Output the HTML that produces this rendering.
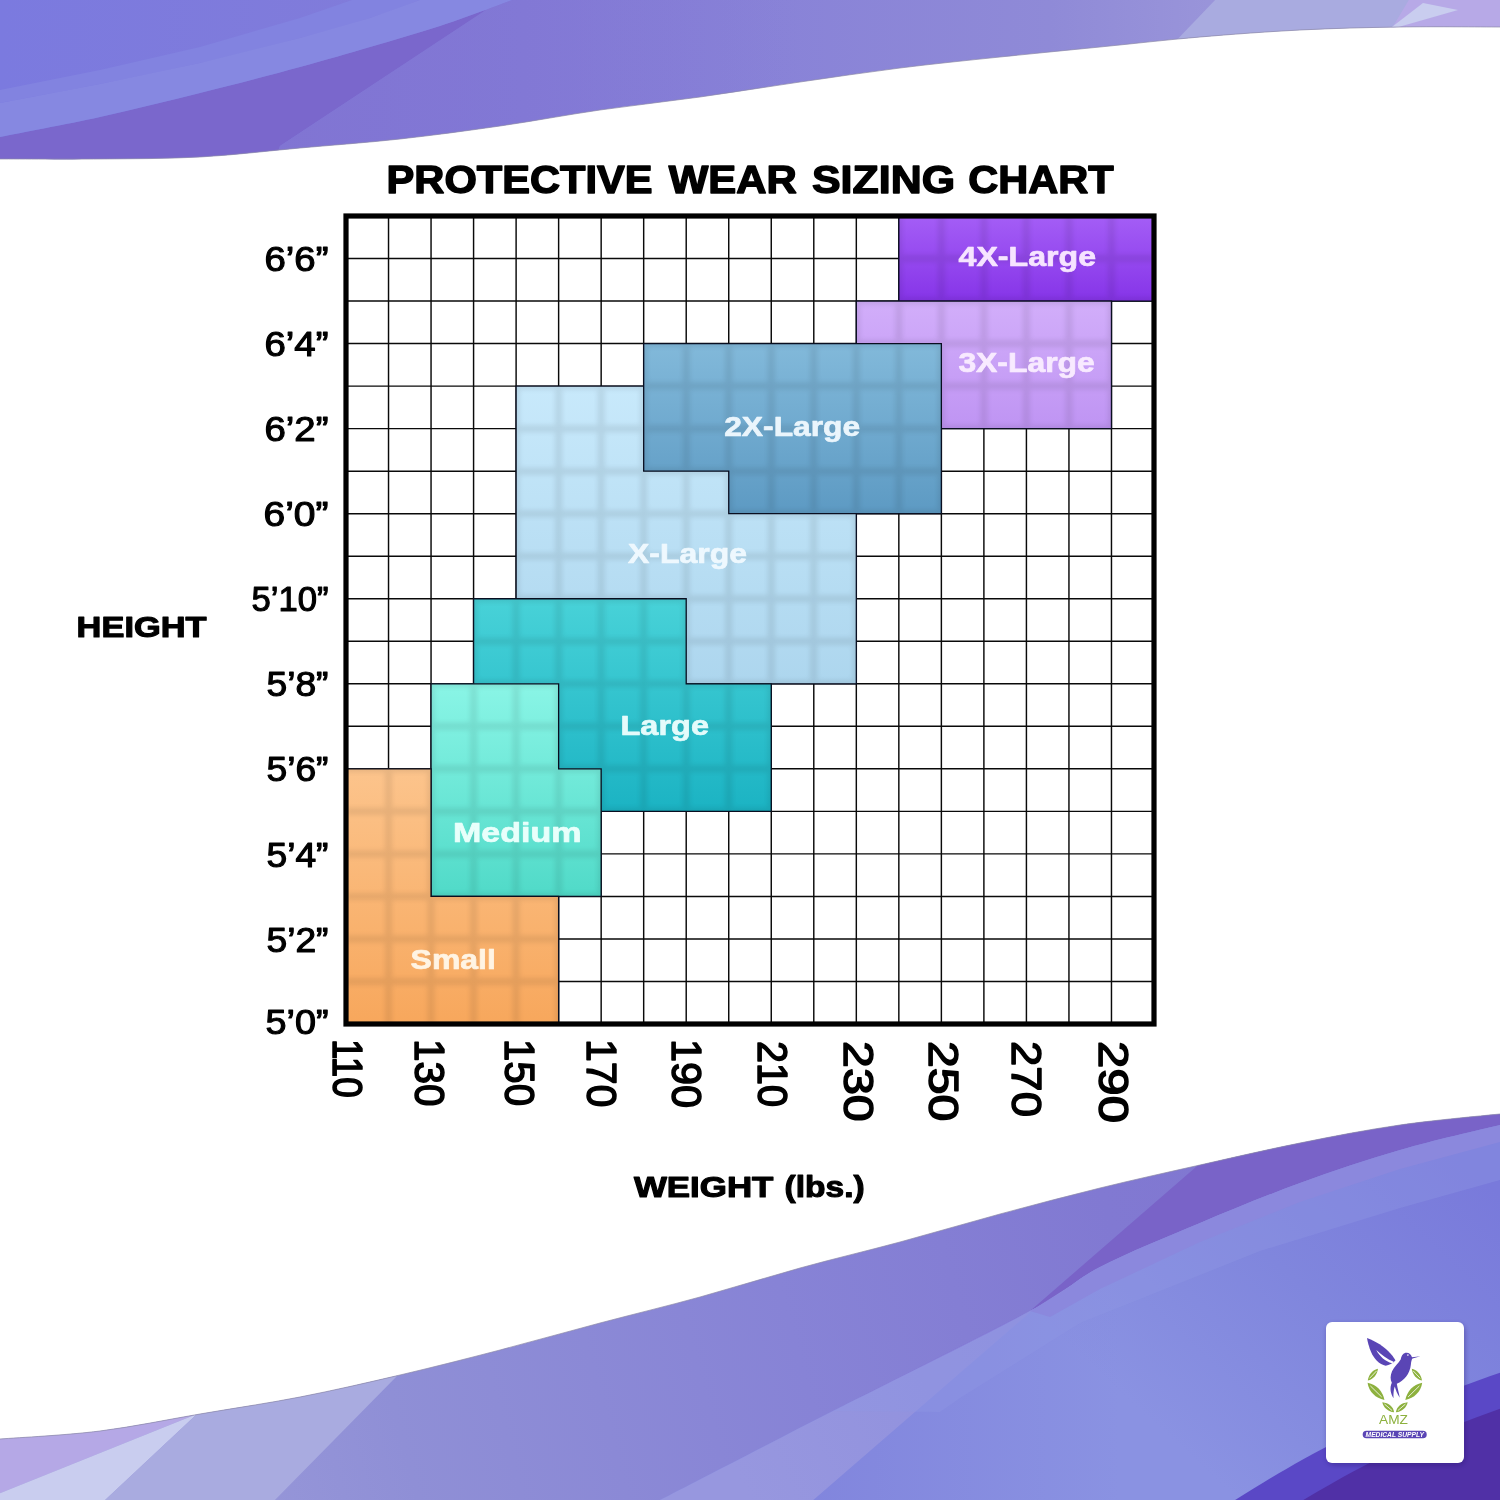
<!DOCTYPE html>
<html lang="en"><head><meta charset="utf-8"><title>Protective Wear Sizing Chart</title>
<style>
html,body{margin:0;padding:0;background:#fff;}
body{width:1500px;height:1500px;overflow:hidden;position:relative;}
svg{display:block;position:absolute;left:0;top:0;will-change:transform;}
text{font-family:"Liberation Sans",sans-serif;}
.b{font-weight:bold;}
.ax{fill:#000;stroke:#000;stroke-width:1.1px;stroke-linejoin:round;}
.hd{fill:#000;font-weight:bold;stroke:#000;stroke-width:1.4px;stroke-linejoin:round;}
.lb{font-weight:bold;stroke-width:0.7px;stroke-linejoin:round;}
</style></head><body>
<svg width="1500" height="1500" viewBox="0 0 1500 1500">
<defs>
<linearGradient id="gt" gradientUnits="userSpaceOnUse" x1="0" y1="0" x2="1500" y2="0"><stop offset="0" stop-color="#7b7adf"/><stop offset="0.35" stop-color="#837cd8"/><stop offset="0.7" stop-color="#8f8ad7"/><stop offset="0.9" stop-color="#a29ddc"/><stop offset="1" stop-color="#b9a8e8"/></linearGradient>
<linearGradient id="gb" gradientUnits="userSpaceOnUse" x1="0" y1="1500" x2="1300" y2="1150"><stop offset="0" stop-color="#a0a0dc"/><stop offset="0.3" stop-color="#8f8fd6"/><stop offset="0.6" stop-color="#8783d6"/><stop offset="0.85" stop-color="#8179d2"/><stop offset="1" stop-color="#8076d0"/></linearGradient>
<linearGradient id="gb2" gradientUnits="userSpaceOnUse" x1="1450" y1="1150" x2="1150" y2="1480"><stop offset="0" stop-color="#797adb"/><stop offset="0.45" stop-color="#8086dd"/><stop offset="0.9" stop-color="#8a92e2"/><stop offset="1" stop-color="#8a92e2"/></linearGradient>
<linearGradient id="gb3" gradientUnits="userSpaceOnUse" x1="750" y1="1500" x2="1500" y2="1140"><stop offset="0" stop-color="#9797df"/><stop offset="0.5" stop-color="#8d8ddd"/><stop offset="1" stop-color="#8a86dc"/></linearGradient>
<linearGradient id="gt2" gradientUnits="userSpaceOnUse" x1="300" y1="0" x2="800" y2="0"><stop offset="0" stop-color="#8174d2" stop-opacity="0.9"/><stop offset="1" stop-color="#8174d2" stop-opacity="0"/></linearGradient>
<linearGradient id="gb4" gradientUnits="userSpaceOnUse" x1="800" y1="0" x2="1120" y2="0"><stop offset="0" stop-color="#8185dd" stop-opacity="1"/><stop offset="1" stop-color="#8185dd" stop-opacity="0"/></linearGradient>
<clipPath id="ct"><path d="M-20.0,159.0 C-16.7,159.0 -20.0,159.0 0.0,159.0 C20.0,159.0 66.7,159.3 100.0,159.0 C133.3,158.7 166.7,158.8 200.0,157.0 C233.3,155.2 266.7,151.0 300.0,148.0 C333.3,145.0 366.7,142.7 400.0,139.0 C433.3,135.3 466.7,130.8 500.0,126.0 C533.3,121.2 566.7,114.8 600.0,110.0 C633.3,105.2 666.7,101.7 700.0,97.0 C733.3,92.3 766.7,86.8 800.0,82.0 C833.3,77.2 866.7,72.2 900.0,68.0 C933.3,63.8 966.7,60.5 1000.0,57.0 C1033.3,53.5 1066.7,50.3 1100.0,47.0 C1133.3,43.7 1166.7,39.8 1200.0,37.0 C1233.3,34.2 1266.7,31.7 1300.0,30.0 C1333.3,28.3 1366.7,27.5 1400.0,27.0 C1433.3,26.5 1480.0,27.0 1500.0,27.0 C1520.0,27.0 1516.7,27.0 1520.0,27.0 L1520,-20 L-20,-20 Z"/></clipPath>
<clipPath id="cb"><path d="M-20.0,1440.0 C-16.7,1439.8 -20.0,1440.5 0.0,1439.0 C20.0,1437.5 66.7,1435.2 100.0,1431.0 C133.3,1426.8 166.7,1419.7 200.0,1414.0 C233.3,1408.3 266.7,1403.5 300.0,1397.0 C333.3,1390.5 366.7,1382.8 400.0,1375.0 C433.3,1367.2 466.7,1358.7 500.0,1350.0 C533.3,1341.3 566.7,1331.8 600.0,1323.0 C633.3,1314.2 666.7,1306.2 700.0,1297.0 C733.3,1287.8 766.7,1277.2 800.0,1268.0 C833.3,1258.8 866.7,1251.0 900.0,1242.0 C933.3,1233.0 966.7,1223.0 1000.0,1214.0 C1033.3,1205.0 1066.7,1196.2 1100.0,1188.0 C1133.3,1179.8 1166.7,1172.5 1200.0,1165.0 C1233.3,1157.5 1266.7,1149.7 1300.0,1143.0 C1333.3,1136.3 1366.7,1129.8 1400.0,1125.0 C1433.3,1120.2 1480.0,1116.0 1500.0,1114.0 C1520.0,1112.0 1516.7,1113.2 1520.0,1113.0 L1520,1520 L-20,1520 Z"/></clipPath>
<linearGradient id="g_xl4" gradientUnits="userSpaceOnUse" x1="0" y1="216.0" x2="0" y2="301.05"><stop offset="0" stop-color="#a45ef6"/><stop offset="1" stop-color="#8634e8"/></linearGradient>
<linearGradient id="g_xl3" gradientUnits="userSpaceOnUse" x1="0" y1="301.05" x2="0" y2="428.63"><stop offset="0" stop-color="#d2aefa"/><stop offset="1" stop-color="#bf94f3"/></linearGradient>
<linearGradient id="g_xl" gradientUnits="userSpaceOnUse" x1="0" y1="386.11" x2="0" y2="683.79"><stop offset="0" stop-color="#c8e9fb"/><stop offset="1" stop-color="#add6ee"/></linearGradient>
<linearGradient id="g_xl2" gradientUnits="userSpaceOnUse" x1="0" y1="343.58" x2="0" y2="513.68"><stop offset="0" stop-color="#82b9da"/><stop offset="1" stop-color="#5d9ac3"/></linearGradient>
<linearGradient id="g_lg" gradientUnits="userSpaceOnUse" x1="0" y1="598.74" x2="0" y2="811.37"><stop offset="0" stop-color="#48d2d8"/><stop offset="1" stop-color="#1bb3c3"/></linearGradient>
<linearGradient id="g_md" gradientUnits="userSpaceOnUse" x1="0" y1="683.79" x2="0" y2="896.42"><stop offset="0" stop-color="#8af5e6"/><stop offset="1" stop-color="#50dac8"/></linearGradient>
<linearGradient id="g_sm" gradientUnits="userSpaceOnUse" x1="0" y1="768.84" x2="0" y2="1024.0"><stop offset="0" stop-color="#fcc48c"/><stop offset="1" stop-color="#f7a75c"/></linearGradient>
<clipPath id="call"><polygon points="898.84,216.0 1154.0,216.0 1154.0,301.05 898.84,301.05"/><polygon points="856.32,301.05 1111.47,301.05 1111.47,428.63 856.32,428.63"/><polygon points="516.11,386.11 856.32,386.11 856.32,683.79 516.11,683.79"/><polygon points="643.68,343.58 941.37,343.58 941.37,513.68 728.74,513.68 728.74,471.16 643.68,471.16"/><polygon points="473.58,598.74 686.21,598.74 686.21,683.79 771.26,683.79 771.26,811.37 473.58,811.37"/><polygon points="431.05,683.79 558.63,683.79 558.63,768.84 601.16,768.84 601.16,896.42 431.05,896.42"/><polygon points="346.0,768.84 431.05,768.84 431.05,896.42 558.63,896.42 558.63,1024.0 346.0,1024.0"/></clipPath>
<filter id="bl" x="-5%" y="-5%" width="110%" height="110%"><feGaussianBlur stdDeviation="2.8"/></filter>
<filter id="sh" x="-20%" y="-20%" width="140%" height="140%"><feGaussianBlur stdDeviation="2.5"/></filter>
</defs>
<g clip-path="url(#ct)">
<rect x="0" y="0" width="1500" height="200" fill="url(#gt)"/>
<path d="M-20.0,141.0 C-16.7,140.3 -20.0,141.0 0.0,137.0 C20.0,133.0 66.7,124.3 100.0,117.0 C133.3,109.7 166.7,101.3 200.0,93.0 C233.3,84.7 271.7,74.7 300.0,67.0 C328.3,59.3 346.7,53.8 370.0,47.0 C393.3,40.2 416.3,33.8 440.0,26.0 C463.7,18.2 497.0,5.7 512.0,0.0 C527.0,-5.7 527.0,-6.7 530.0,-8.0 L492,6 L280,146 L270,175 L-20,175 Z" fill="#7a67cc"/>
<polygon points="512,-2 492,6 280,146 270,175 800,175 800,-2" fill="url(#gt2)"/>
<path d="M-20.0,107.0 C-16.7,106.3 -20.0,106.8 0.0,103.0 C20.0,99.2 66.7,90.7 100.0,84.0 C133.3,77.3 166.7,70.7 200.0,63.0 C233.3,55.3 271.7,45.5 300.0,38.0 C328.3,30.5 350.0,24.3 370.0,18.0 C390.0,11.7 408.3,4.3 420.0,0.0 C431.7,-4.3 436.7,-6.7 440.0,-8.0 L370,-8 L352,0 L300,18 L200,47 L100,70 L0,90 L-20,93 Z" fill="#8283e0"/>
<path d="M-20.0,141.0 C-16.7,140.3 -20.0,141.0 0.0,137.0 C20.0,133.0 66.7,124.3 100.0,117.0 C133.3,109.7 166.7,101.3 200.0,93.0 C233.3,84.7 271.7,74.7 300.0,67.0 C328.3,59.3 346.7,53.8 370.0,47.0 C393.3,40.2 416.3,33.8 440.0,26.0 C463.7,18.2 497.0,5.7 512.0,0.0 C527.0,-5.7 527.0,-6.7 530.0,-8.0 L440,-8 L420,0 L370,18 L300,38 L200,63 L100,84 L0,103 L-20,107 Z" fill="#8688e1"/>
<polygon points="1172,45 1217,-2 1410,-2 1390,40" fill="#a9abe0"/>
<polygon points="1385,40 1410,-2 1520,-2 1520,40" fill="#b7a9e7"/>
<polygon points="1388,30 1423,3 1458,10" fill="#c9cdef"/>
</g>
<path d="M-20.0,159.0 C-16.7,159.0 -20.0,159.0 0.0,159.0 C20.0,159.0 66.7,159.3 100.0,159.0 C133.3,158.7 166.7,158.8 200.0,157.0 C233.3,155.2 266.7,151.0 300.0,148.0 C333.3,145.0 366.7,142.7 400.0,139.0 C433.3,135.3 466.7,130.8 500.0,126.0 C533.3,121.2 566.7,114.8 600.0,110.0 C633.3,105.2 666.7,101.7 700.0,97.0 C733.3,92.3 766.7,86.8 800.0,82.0 C833.3,77.2 866.7,72.2 900.0,68.0 C933.3,63.8 966.7,60.5 1000.0,57.0 C1033.3,53.5 1066.7,50.3 1100.0,47.0 C1133.3,43.7 1166.7,39.8 1200.0,37.0 C1233.3,34.2 1266.7,31.7 1300.0,30.0 C1333.3,28.3 1366.7,27.5 1400.0,27.0 C1433.3,26.5 1480.0,27.0 1500.0,27.0 C1520.0,27.0 1516.7,27.0 1520.0,27.0" fill="none" stroke="#8d8aa8" stroke-width="1" opacity="0.7"/>
<g clip-path="url(#cb)">
<rect x="0" y="1100" width="1500" height="400" fill="url(#gb)"/>
<polygon points="-2,1400 200,1400 197,1414 -2,1494" fill="#b5a8e6"/>
<polygon points="-2,1494 197,1414 103,1502 -2,1502" fill="#c9cdef"/>
<polygon points="103,1502 197,1414 210,1400 400,1370 397,1376 273,1502" fill="#a9abe0"/>
<path d="M641.0,1510.0 C644.2,1508.3 628.0,1516.5 660.0,1500.0 C692.0,1483.5 771.3,1442.5 833.0,1411.0 C894.7,1379.5 985.5,1335.0 1030.0,1311.0 C1074.5,1287.0 1071.7,1281.7 1100.0,1267.0 C1128.3,1252.3 1166.7,1237.0 1200.0,1223.0 C1233.3,1209.0 1266.7,1195.2 1300.0,1183.0 C1333.3,1170.8 1366.7,1159.7 1400.0,1150.0 C1433.3,1140.3 1480.0,1129.8 1500.0,1125.0 C1520.0,1120.2 1516.7,1121.7 1520.0,1121.0 L1520,1520 L640,1520 Z" fill="url(#gb2)"/>
<path d="M641.0,1510.0 C644.2,1508.3 628.0,1516.5 660.0,1500.0 C692.0,1483.5 771.3,1442.5 833.0,1411.0 C894.7,1379.5 985.5,1335.0 1030.0,1311.0 C1074.5,1287.0 1071.7,1281.7 1100.0,1267.0 C1128.3,1252.3 1166.7,1237.0 1200.0,1223.0 C1233.3,1209.0 1266.7,1195.2 1300.0,1183.0 C1333.3,1170.8 1366.7,1159.7 1400.0,1150.0 C1433.3,1140.3 1480.0,1129.8 1500.0,1125.0 C1520.0,1120.2 1516.7,1121.7 1520.0,1121.0 L1520,1520 L640,1520 Z" fill="url(#gb4)"/>
<path d="M833.0,1411.0 C865.8,1394.3 985.5,1335.0 1030.0,1311.0 C1074.5,1287.0 1071.7,1281.7 1100.0,1267.0 C1128.3,1252.3 1166.7,1237.0 1200.0,1223.0 C1233.3,1209.0 1266.7,1195.2 1300.0,1183.0 C1333.3,1170.8 1366.7,1159.7 1400.0,1150.0 C1433.3,1140.3 1480.0,1129.8 1500.0,1125.0 C1520.0,1120.2 1516.7,1121.7 1520.0,1121.0 L1520,1090 L1204,1160 L1030,1311 Z" fill="#7963c8"/>
<path d="M641.0,1510.0 C644.2,1508.3 628.0,1516.5 660.0,1500.0 C692.0,1483.5 771.3,1442.5 833.0,1411.0 C894.7,1379.5 985.5,1335.0 1030.0,1311.0 C1074.5,1287.0 1088.3,1274.3 1100.0,1267.0 L1034,1309 L811,1502 L640,1520 Z" fill="url(#gb3)"/>
<path d="M833.0,1411.0 C865.8,1394.3 985.5,1335.0 1030.0,1311.0 C1074.5,1287.0 1071.7,1281.7 1100.0,1267.0 C1128.3,1252.3 1166.7,1237.0 1200.0,1223.0 C1233.3,1209.0 1266.7,1195.2 1300.0,1183.0 C1333.3,1170.8 1366.7,1159.7 1400.0,1150.0 C1433.3,1140.3 1480.0,1129.8 1500.0,1125.0 C1520.0,1120.2 1516.7,1121.7 1520.0,1121.0 L1520,1175 L1500,1180 L1400,1208 L1260,1251 L1080,1323 L960,1398 L940,1412 Z" fill="#8f95e4" opacity="0.4"/>
<path d="M833.0,1411.0 C865.8,1394.3 985.5,1335.0 1030.0,1311.0 C1074.5,1287.0 1071.7,1281.7 1100.0,1267.0 C1128.3,1252.3 1166.7,1237.0 1200.0,1223.0 C1233.3,1209.0 1266.7,1195.2 1300.0,1183.0 C1333.3,1170.8 1366.7,1159.7 1400.0,1150.0 C1433.3,1140.3 1480.0,1129.8 1500.0,1125.0 C1520.0,1120.2 1516.7,1121.7 1520.0,1121.0 L1520,1137 L1500,1142 L1400,1169 L1300,1202 L1200,1242 L1100,1289 L1050,1317 L1030,1311 Z" fill="#8b88dd"/>
<path d="M1232,1502 C1270,1478 1300,1460 1340,1440 C1400,1410 1450,1390 1502,1372 L1502,1502 Z" fill="#5a48c6"/>
<path d="M1300,1502 C1340,1478 1370,1462 1400,1448 C1440,1430 1470,1420 1502,1408 L1502,1502 Z" fill="#5030a6"/>
</g>
<path d="M-20.0,1440.0 C-16.7,1439.8 -20.0,1440.5 0.0,1439.0 C20.0,1437.5 66.7,1435.2 100.0,1431.0 C133.3,1426.8 166.7,1419.7 200.0,1414.0 C233.3,1408.3 266.7,1403.5 300.0,1397.0 C333.3,1390.5 366.7,1382.8 400.0,1375.0 C433.3,1367.2 466.7,1358.7 500.0,1350.0 C533.3,1341.3 566.7,1331.8 600.0,1323.0 C633.3,1314.2 666.7,1306.2 700.0,1297.0 C733.3,1287.8 766.7,1277.2 800.0,1268.0 C833.3,1258.8 866.7,1251.0 900.0,1242.0 C933.3,1233.0 966.7,1223.0 1000.0,1214.0 C1033.3,1205.0 1066.7,1196.2 1100.0,1188.0 C1133.3,1179.8 1166.7,1172.5 1200.0,1165.0 C1233.3,1157.5 1266.7,1149.7 1300.0,1143.0 C1333.3,1136.3 1366.7,1129.8 1400.0,1125.0 C1433.3,1120.2 1480.0,1116.0 1500.0,1114.0 C1520.0,1112.0 1516.7,1113.2 1520.0,1113.0" fill="none" stroke="#8d8aa8" stroke-width="1" opacity="0.7"/>
<rect x="1327" y="1324" width="138" height="141" rx="7" fill="#1a1060" opacity="0.35" filter="url(#sh)"/>
<rect x="1326" y="1322" width="138" height="141" rx="6" fill="#fff"/>
<g id="logo" transform="translate(1310,1310) scale(0.11333)">
<g fill="#5a45b5">
<path d="M503,246 C575,270 660,325 712,385 C735,412 748,430 754,446 C728,470 700,488 668,492 C612,480 565,432 538,368 C522,330 510,288 503,246 Z"/>
<path d="M585,352 C625,392 680,432 738,456 C735,462 730,466 724,470 C665,452 615,410 585,352 Z" fill="#fff"/>
<path d="M975,407 L900,418 C893,388 868,372 842,378 C815,385 806,410 800,436 C782,466 742,500 724,540 C707,580 708,612 722,642 C700,690 712,740 737,778 C735,742 738,704 748,676 C756,704 770,742 792,775 C786,732 772,690 766,650 C830,622 882,562 890,482 C893,456 896,440 904,428 Z"/>
</g>
<circle cx="864" cy="398" r="7" fill="#fff"/>
<g fill="#8db13e">
<path d="M600,518 C560,528 518,560 510,622 C560,612 592,570 600,518 Z"/>
<path d="M508,643 C518,720 580,782 657,794 C642,720 590,658 508,643 Z"/>
<path d="M638,813 C648,860 690,897 742,902 C737,855 695,818 638,813 Z"/>
<path d="M862,813 C852,860 810,897 758,902 C763,855 805,818 862,813 Z"/>
<path d="M990,643 C980,720 918,782 841,794 C856,720 908,658 990,643 Z"/>
<path d="M898,518 C938,528 980,560 988,622 C938,612 906,570 898,518 Z"/>
</g>
<g stroke="#fff" stroke-width="7" fill="none" stroke-linecap="round">
<path d="M585,540 L528,600"/><path d="M535,672 L630,765"/><path d="M660,832 L722,885"/>
<path d="M840,832 L778,885"/><path d="M963,672 L868,765"/><path d="M913,540 L970,600"/>
</g>
<text x="737" y="1008" text-anchor="middle" font-size="120" fill="#8db13e" textLength="255" lengthAdjust="spacingAndGlyphs">AMZ</text>
<rect x="465" y="1065" width="565" height="66" rx="33" fill="#5a45b5"/>
<text x="748" y="1119" text-anchor="middle" font-size="56" font-weight="bold" font-style="italic" fill="#fff" textLength="515" lengthAdjust="spacingAndGlyphs">MEDICAL SUPPLY</text>
</g>
<rect x="346.0" y="216.0" width="808.0" height="808.0" fill="#fff"/>
<path id="grid" d="M388.53,216.0V1024.0M346.0,258.53H1154.0M431.05,216.0V1024.0M346.0,301.05H1154.0M473.58,216.0V1024.0M346.0,343.58H1154.0M516.11,216.0V1024.0M346.0,386.11H1154.0M558.63,216.0V1024.0M346.0,428.63H1154.0M601.16,216.0V1024.0M346.0,471.16H1154.0M643.68,216.0V1024.0M346.0,513.68H1154.0M686.21,216.0V1024.0M346.0,556.21H1154.0M728.74,216.0V1024.0M346.0,598.74H1154.0M771.26,216.0V1024.0M346.0,641.26H1154.0M813.79,216.0V1024.0M346.0,683.79H1154.0M856.32,216.0V1024.0M346.0,726.32H1154.0M898.84,216.0V1024.0M346.0,768.84H1154.0M941.37,216.0V1024.0M346.0,811.37H1154.0M983.89,216.0V1024.0M346.0,853.89H1154.0M1026.42,216.0V1024.0M346.0,896.42H1154.0M1068.95,216.0V1024.0M346.0,938.95H1154.0M1111.47,216.0V1024.0M346.0,981.47H1154.0" fill="none" stroke="#0a0a0a" stroke-width="1.45"/>
<polygon points="898.84,216.0 1154.0,216.0 1154.0,301.05 898.84,301.05" fill="url(#g_xl4)" stroke="#0a0f22" stroke-width="1.3" stroke-linejoin="miter"/>
<polygon points="856.32,301.05 1111.47,301.05 1111.47,428.63 856.32,428.63" fill="url(#g_xl3)" stroke="#0a0f22" stroke-width="1.3" stroke-linejoin="miter"/>
<polygon points="516.11,386.11 856.32,386.11 856.32,683.79 516.11,683.79" fill="url(#g_xl)" stroke="#0a0f22" stroke-width="1.3" stroke-linejoin="miter"/>
<polygon points="643.68,343.58 941.37,343.58 941.37,513.68 728.74,513.68 728.74,471.16 643.68,471.16" fill="url(#g_xl2)" stroke="#0a0f22" stroke-width="1.3" stroke-linejoin="miter"/>
<polygon points="473.58,598.74 686.21,598.74 686.21,683.79 771.26,683.79 771.26,811.37 473.58,811.37" fill="url(#g_lg)" stroke="#0a0f22" stroke-width="1.3" stroke-linejoin="miter"/>
<polygon points="431.05,683.79 558.63,683.79 558.63,768.84 601.16,768.84 601.16,896.42 431.05,896.42" fill="url(#g_md)" stroke="#0a0f22" stroke-width="1.3" stroke-linejoin="miter"/>
<polygon points="346.0,768.84 431.05,768.84 431.05,896.42 558.63,896.42 558.63,1024.0 346.0,1024.0" fill="url(#g_sm)" stroke="#0a0f22" stroke-width="1.3" stroke-linejoin="miter"/>
<g clip-path="url(#call)"><g filter="url(#bl)" opacity="0.078"><path d="M388.53,216.0V1024.0M346.0,258.53H1154.0M431.05,216.0V1024.0M346.0,301.05H1154.0M473.58,216.0V1024.0M346.0,343.58H1154.0M516.11,216.0V1024.0M346.0,386.11H1154.0M558.63,216.0V1024.0M346.0,428.63H1154.0M601.16,216.0V1024.0M346.0,471.16H1154.0M643.68,216.0V1024.0M346.0,513.68H1154.0M686.21,216.0V1024.0M346.0,556.21H1154.0M728.74,216.0V1024.0M346.0,598.74H1154.0M771.26,216.0V1024.0M346.0,641.26H1154.0M813.79,216.0V1024.0M346.0,683.79H1154.0M856.32,216.0V1024.0M346.0,726.32H1154.0M898.84,216.0V1024.0M346.0,768.84H1154.0M941.37,216.0V1024.0M346.0,811.37H1154.0M983.89,216.0V1024.0M346.0,853.89H1154.0M1026.42,216.0V1024.0M346.0,896.42H1154.0M1068.95,216.0V1024.0M346.0,938.95H1154.0M1111.47,216.0V1024.0M346.0,981.47H1154.0" fill="none" stroke="#000" stroke-width="7"/></g></g>
<rect x="346.0" y="216.0" width="808.0" height="808.0" fill="none" stroke="#000" stroke-width="5.2"/>
<text class="lb" x="958.6" y="266.4" font-size="27.5" fill="#f6e4ff" stroke="#f6e4ff" textLength="137.4" lengthAdjust="spacingAndGlyphs">4X-Large</text>
<text class="lb" x="958.4" y="372.2" font-size="27.5" fill="#f8eaff" stroke="#f8eaff" textLength="136.4" lengthAdjust="spacingAndGlyphs">3X-Large</text>
<text class="lb" x="724.2" y="436.4" font-size="27.5" fill="#eaf5fc" stroke="#eaf5fc" textLength="136.0" lengthAdjust="spacingAndGlyphs">2X-Large</text>
<text class="lb" x="628.0" y="562.8" font-size="27.5" fill="#eef8fe" stroke="#eef8fe" textLength="119.0" lengthAdjust="spacingAndGlyphs">X-Large</text>
<text class="lb" x="620.5" y="735.1" font-size="27.5" fill="#e4fbfb" stroke="#e4fbfb" textLength="88.5" lengthAdjust="spacingAndGlyphs">Large</text>
<text class="lb" x="453.0" y="842.3" font-size="27.5" fill="#e8fffb" stroke="#e8fffb" textLength="128.5" lengthAdjust="spacingAndGlyphs">Medium</text>
<text class="lb" x="410.6" y="968.8" font-size="27.5" fill="#fff4e4" stroke="#fff4e4" textLength="85.2" lengthAdjust="spacingAndGlyphs">Small</text>
<text class="hd" y="192.8" font-size="38.5"><tspan x="386.6" textLength="266.0" lengthAdjust="spacingAndGlyphs">PROTECTIVE</tspan> <tspan x="668.7" textLength="128.1" lengthAdjust="spacingAndGlyphs">WEAR</tspan> <tspan x="812.0" textLength="143.0" lengthAdjust="spacingAndGlyphs">SIZING</tspan> <tspan x="968.3" textLength="145.4" lengthAdjust="spacingAndGlyphs">CHART</tspan></text>
<text class="hd" x="76.6" y="636.8" font-size="29.5" textLength="130" lengthAdjust="spacingAndGlyphs" style="stroke-width:1.1px">HEIGHT</text>
<text class="hd" y="1196.6" font-size="29.5" style="stroke-width:1.1px"><tspan x="633.9" textLength="139.5" lengthAdjust="spacingAndGlyphs">WEIGHT</tspan> <tspan x="784.6" textLength="80" lengthAdjust="spacingAndGlyphs">(lbs.)</tspan></text>
<text class="ax" x="264.5" y="271.1" font-size="34.5" textLength="64" lengthAdjust="spacingAndGlyphs">6’6”</text>
<text class="ax" x="264.5" y="356.2" font-size="34.5" textLength="64" lengthAdjust="spacingAndGlyphs">6’4”</text>
<text class="ax" x="264.5" y="441.2" font-size="34.5" textLength="64" lengthAdjust="spacingAndGlyphs">6’2”</text>
<text class="ax" x="263.5" y="526.3" font-size="34.5" textLength="65" lengthAdjust="spacingAndGlyphs">6’0”</text>
<text class="ax" x="251.5" y="611.3" font-size="34.5" textLength="77" lengthAdjust="spacingAndGlyphs">5’10”</text>
<text class="ax" x="266.5" y="696.4" font-size="34.5" textLength="62" lengthAdjust="spacingAndGlyphs">5’8”</text>
<text class="ax" x="266.5" y="781.4" font-size="34.5" textLength="62" lengthAdjust="spacingAndGlyphs">5’6”</text>
<text class="ax" x="266.5" y="866.5" font-size="34.5" textLength="62" lengthAdjust="spacingAndGlyphs">5’4”</text>
<text class="ax" x="266.5" y="951.6" font-size="34.5" textLength="62" lengthAdjust="spacingAndGlyphs">5’2”</text>
<text class="ax" x="265.5" y="1034.2" font-size="34.5" textLength="63" lengthAdjust="spacingAndGlyphs">5’0”</text>
<text class="ax" transform="translate(332.9,1039.0) rotate(90)" x="0" y="0" font-size="43" textLength="58.6" lengthAdjust="spacingAndGlyphs" style="stroke-width:1.5px">110</text>
<text class="ax" transform="translate(415.0,1039.0) rotate(90)" x="0" y="0" font-size="43" textLength="67.4" lengthAdjust="spacingAndGlyphs" style="stroke-width:1.5px">130</text>
<text class="ax" transform="translate(505.1,1039.0) rotate(90)" x="0" y="0" font-size="43" textLength="67.0" lengthAdjust="spacingAndGlyphs" style="stroke-width:1.5px">150</text>
<text class="ax" transform="translate(587.4,1039.0) rotate(90)" x="0" y="0" font-size="43" textLength="68.3" lengthAdjust="spacingAndGlyphs" style="stroke-width:1.5px">170</text>
<text class="ax" transform="translate(672.4,1039.0) rotate(90)" x="0" y="0" font-size="43" textLength="69.1" lengthAdjust="spacingAndGlyphs" style="stroke-width:1.5px">190</text>
<text class="ax" transform="translate(757.7,1041.0) rotate(90)" x="0" y="0" font-size="43" textLength="66.0" lengthAdjust="spacingAndGlyphs" style="stroke-width:1.5px">210</text>
<text class="ax" transform="translate(844.2,1041.0) rotate(90)" x="0" y="0" font-size="43" textLength="80.7" lengthAdjust="spacingAndGlyphs" style="stroke-width:1.5px">230</text>
<text class="ax" transform="translate(929.1,1041.0) rotate(90)" x="0" y="0" font-size="43" textLength="80.3" lengthAdjust="spacingAndGlyphs" style="stroke-width:1.5px">250</text>
<text class="ax" transform="translate(1012.4,1041.0) rotate(90)" x="0" y="0" font-size="43" textLength="76.0" lengthAdjust="spacingAndGlyphs" style="stroke-width:1.5px">270</text>
<text class="ax" transform="translate(1099.1,1041.0) rotate(90)" x="0" y="0" font-size="43" textLength="82.0" lengthAdjust="spacingAndGlyphs" style="stroke-width:1.5px">290</text>
</svg>
</body></html>
